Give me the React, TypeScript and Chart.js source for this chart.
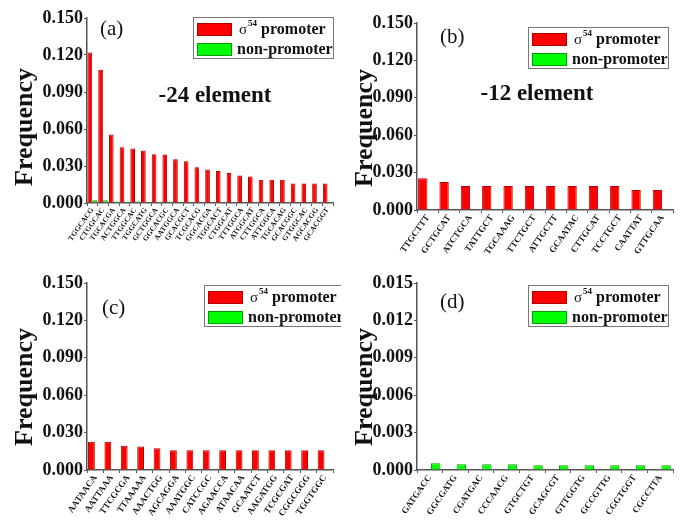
import React, { useEffect, useRef } from "react";
import { Chart, registerables } from "chart.js";
Chart.register(...registerables);

// ---------- data ----------
const labelsA = [
  "TGGCACG", "CTGGCAC", "TGCACGA", "ACTGGCA", "TTGGCAC", "TGGCATG", "GCTGGCA", "GGCACGC",
  "AATGGCA", "GCACGCT", "TCGCACG", "GGCACGA", "TGGCACT", "CTGGCAT", "TTTGGCA", "ATGGCAT",
  "CTTGGCA", "ATTGGCA", "TGCACAG", "GCACGGC", "GTGGCAC", "AGCACGG", "GCACGGT",
];
const promoterA = [
  0.122, 0.108, 0.0555, 0.0453, 0.0442, 0.0426, 0.0396, 0.0394, 0.0354, 0.0338, 0.0289, 0.0271,
  0.026, 0.0244, 0.0222, 0.0214, 0.0188, 0.0188, 0.0188, 0.0158, 0.0158, 0.0158, 0.0158,
];
const nonPromoterA = [
  0.0022, 0.0022, 0.0012, 0.001, 0.0012, 0.001, 0.0008, 0.0008, 0.0006, 0.0005, 0.0005, 0.0004,
  0.0004, 0.0004, 0.0004, 0.0004, 0.0004, 0.0004, 0.0003, 0.0004, 0.0003, 0.0003, 0.0003,
];

const labelsB = [
  "TTGCTTT", "GCTGCAT", "ATCTGCA", "TATTGCT", "TGCAAAG", "TTCTGCT",
  "ATTGCTT", "GCAATAC", "CTTGCAT", "TCCTGCT", "CAATTAT", "GTTGCAA",
];
const promoterB = [0.0254, 0.0225, 0.0193, 0.0193, 0.0193, 0.0193, 0.0193, 0.0193, 0.0193, 0.0193, 0.016, 0.016];
const nonPromoterB = [0, 0, 0, 0, 0, 0, 0, 0, 0, 0, 0, 0];

const labelsC = [
  "AATAACA", "AATTAAA", "TTCGCGA", "TTAAAAA", "AAACTGG", "AGCAGGA", "AAATGGC", "CATCCGC",
  "AGAACCA", "ATAACAA", "GCAATCT", "AAGATGG", "TCGCGAT", "CGGCGGG", "TGGTGGC",
];
const promoterC = [0.0226, 0.0226, 0.0194, 0.0188, 0.0175, 0.0158, 0.0158, 0.0158, 0.0158, 0.0158, 0.0158, 0.0158, 0.0158, 0.0158, 0.0158];
const nonPromoterC = [0, 0, 0, 0, 0, 0, 0, 0, 0, 0, 0, 0, 0, 0, 0];

const labelsD = [
  "GATGACC", "GGCGATG", "CGATGAC", "CCCAACG", "GTGCTGT",
  "GCAGCGT", "GTTGGTG", "GCCGTTG", "CGGTGGT", "CGCCTTA",
];
const promoterD = [0, 0, 0, 0, 0, 0, 0, 0, 0, 0];
const nonPromoterD = [0.00055, 0.00046, 0.00046, 0.00046, 0.00038, 0.00038, 0.00038, 0.00038, 0.00038, 0.00038];

const yMaxTop = 0.15;
const yStepTop = 0.03;
const yMaxD = 0.015;
const yStepD = 0.003;

const seriesNames = ["promoter", "non-promoter"];
const yAxisTitle = "Frequency";

// ---------- styling ----------
const SERIF = "'Liberation Serif', 'DejaVu Serif', serif";
const RED = "#ff0000";
const RED_EDGE = "#b00000";
const GREEN = "#00ff00";
const GREEN_EDGE = "#00a000";

const decorPlugin = {
  id: "decor",
  afterDraw(chart: any, _args: any, opts: any) {
    const { ctx, chartArea } = chart;
    ctx.save();
    // y axis title
    ctx.fillStyle = "#111";
    ctx.save();
    ctx.translate(opts.titleX, chartArea.top + opts.titleDy);
    ctx.rotate(-Math.PI / 2);
    ctx.textAlign = "center";
    ctx.textBaseline = "middle";
    ctx.font = `bold 26px ${SERIF}`;
    ctx.fillText(yAxisTitle, 0, 0);
    ctx.restore();
    // panel letter
    ctx.textBaseline = "middle";
    ctx.textAlign = "left";
    ctx.font = `21px ${SERIF}`;
    ctx.fillText(opts.letter, chartArea.left + opts.letterDx, chartArea.top + opts.letterDy);
    // element text
    if (opts.element) {
      ctx.font = `bold 23px ${SERIF}`;
      ctx.textAlign = "center";
      ctx.fillText(opts.element, chartArea.left + opts.elementDx, chartArea.top + opts.elementDy);
    }
    // legend box
    const bw = 140;
    const bh = 41;
    const bx = chartArea.right + opts.legendDx - bw;
    const by = chartArea.top + opts.legendDy;
    ctx.fillStyle = "#fff";
    ctx.fillRect(bx, by, bw, bh);
    ctx.strokeStyle = "#777";
    ctx.lineWidth = 1;
    ctx.strokeRect(bx + 0.5, by + 0.5, bw, bh);
    const ds = chart.data.datasets;
    const rows = [by + 6, by + 26];
    rows.forEach((ry: number, i: number) => {
      ctx.fillStyle = ds[i].backgroundColor;
      ctx.fillRect(bx + 4, ry, 35, 13);
      ctx.strokeStyle = ds[i].borderColor;
      ctx.strokeRect(bx + 4.5, ry + 0.5, 34, 12);
    });
    ctx.fillStyle = "#111";
    ctx.textAlign = "left";
    ctx.textBaseline = "middle";
    // row 1: sigma^54 promoter
    let tx = bx + 46;
    const y1 = rows[0] + 7;
    ctx.font = `15px ${SERIF}`;
    ctx.fillText("σ", tx, y1);
    tx += ctx.measureText("σ").width + 1;
    ctx.font = `bold 9px ${SERIF}`;
    ctx.fillText("54", tx, y1 - 6);
    tx += ctx.measureText("54").width + 4;
    ctx.font = `bold 16px ${SERIF}`;
    ctx.fillText(ds[0].label, tx, y1);
    // row 2
    ctx.fillText(ds[1].label, bx + 44, rows[1] + 7);
    ctx.restore();
  },
};

type PanelProps = {
  labels: string[];
  red: number[];
  green: number[];
  yMax: number;
  yStep: number;
  width: number;
  height: number;
  left: number;
  top: number;
  padTop: number;
  padRight: number;
  yAxisWidth: number;
  xAxisHeight: number;
  xFont: number;
  barPct: number;
  decor: any;
};

function Panel(p: PanelProps) {
  const ref = useRef<HTMLCanvasElement | null>(null);
  useEffect(() => {
    if (!ref.current) return;
    const chart = new Chart(ref.current, {
      type: "bar",
      data: {
        labels: p.labels,
        datasets: [
          {
            label: seriesNames[0],
            data: p.red,
            backgroundColor: RED,
            borderColor: RED_EDGE,
            borderWidth: 1,
          },
          {
            label: seriesNames[1],
            data: p.green,
            backgroundColor: GREEN,
            borderColor: GREEN_EDGE,
            borderWidth: 1,
          },
        ],
      },
      options: {
        responsive: false,
        animation: false,
        devicePixelRatio: 1,
        layout: { padding: { top: p.padTop, right: p.padRight, left: 0, bottom: 0 } },
        datasets: { bar: { categoryPercentage: 0.92, barPercentage: p.barPct } },
        plugins: {
          legend: { display: false },
          tooltip: { enabled: false },
          decor: p.decor,
        } as any,
        scales: {
          x: {
            grid: { drawOnChartArea: false, drawTicks: true, tickLength: 3, color: "#555" },
            border: { display: true, color: "#555", width: 1.5 },
            ticks: {
              autoSkip: false,
              minRotation: 55,
              maxRotation: 55,
              padding: 0,
              color: "#111",
              font: { family: SERIF, size: p.xFont, weight: "bold" },
            },
            afterFit: (s: any) => {
              s.height = p.xAxisHeight;
            },
          },
          y: {
            min: 0,
            max: p.yMax,
            grid: { drawOnChartArea: false, drawTicks: true, tickLength: 3, color: "#555" },
            border: { display: true, color: "#555", width: 1.5 },
            ticks: {
              stepSize: p.yStep,
              padding: 1,
              color: "#111",
              font: { family: SERIF, size: 18, weight: "bold" },
              callback: (v: any) => Number(v).toFixed(3),
            },
            afterFit: (s: any) => {
              s.width = p.yAxisWidth;
            },
          },
        },
      },
      plugins: [decorPlugin],
    } as any);
    return () => chart.destroy();
  }, []);
  return (
    <canvas
      ref={ref}
      width={p.width}
      height={p.height}
      style={{ position: "absolute", left: p.left, top: p.top, width: p.width, height: p.height }}
    />
  );
}

export default function App() {
  useEffect(() => {
    document.body.style.margin = "0";
    document.body.style.background = "#fff";
  }, []);
  return (
    <div style={{ position: "relative", width: 683, height: 531, background: "#fff", overflow: "hidden" }}>
      <Panel
        labels={labelsA}
        red={promoterA}
        green={nonPromoterA}
        yMax={yMaxTop}
        yStep={yStepTop}
        width={341}
        height={265}
        left={0}
        top={0}
        padTop={18}
        padRight={8}
        yAxisWidth={87}
        xAxisHeight={62}
        xFont={7.5}
        barPct={0.95}
        decor={{ titleX: 25, titleDy: 109, letter: "(a)", letterDx: 13, letterDy: 11, element: "-24 element", elementDx: 128, elementDy: 78, legendDx: 0, legendDy: -1 }}
      />
      <Panel
        labels={labelsB}
        red={promoterB}
        green={nonPromoterB}
        yMax={yMaxTop}
        yStep={yStepTop}
        width={342}
        height={265}
        left={341}
        top={0}
        padTop={23}
        padRight={10}
        yAxisWidth={76}
        xAxisHeight={55}
        xFont={9}
        barPct={0.95}
        decor={{ titleX: 24, titleDy: 105, letter: "(b)", letterDx: 23, letterDy: 14, element: "-12 element", elementDx: 120, elementDy: 71, legendDx: -5, legendDy: 4 }}
      />
      <Panel
        labels={labelsC}
        red={promoterC}
        green={nonPromoterC}
        yMax={yMaxTop}
        yStep={yStepTop}
        width={341}
        height={266}
        left={0}
        top={265}
        padTop={18}
        padRight={8}
        yAxisWidth={87}
        xAxisHeight={61}
        xFont={9}
        barPct={0.9}
        decor={{ titleX: 25, titleDy: 104, letter: "(c)", letterDx: 15, letterDy: 25, element: "", elementDx: 0, elementDy: 0, legendDx: 11, legendDy: 2 }}
      />
      <Panel
        labels={labelsD}
        red={promoterD}
        green={nonPromoterD}
        yMax={yMaxD}
        yStep={yStepD}
        width={342}
        height={266}
        left={341}
        top={265}
        padTop={18}
        padRight={10}
        yAxisWidth={76}
        xAxisHeight={61}
        xFont={9}
        barPct={0.8}
        decor={{ titleX: 24, titleDy: 104, letter: "(d)", letterDx: 23, letterDy: 19, element: "", elementDx: 0, elementDy: 0, legendDx: -5, legendDy: 2 }}
      />
    </div>
  );
}
